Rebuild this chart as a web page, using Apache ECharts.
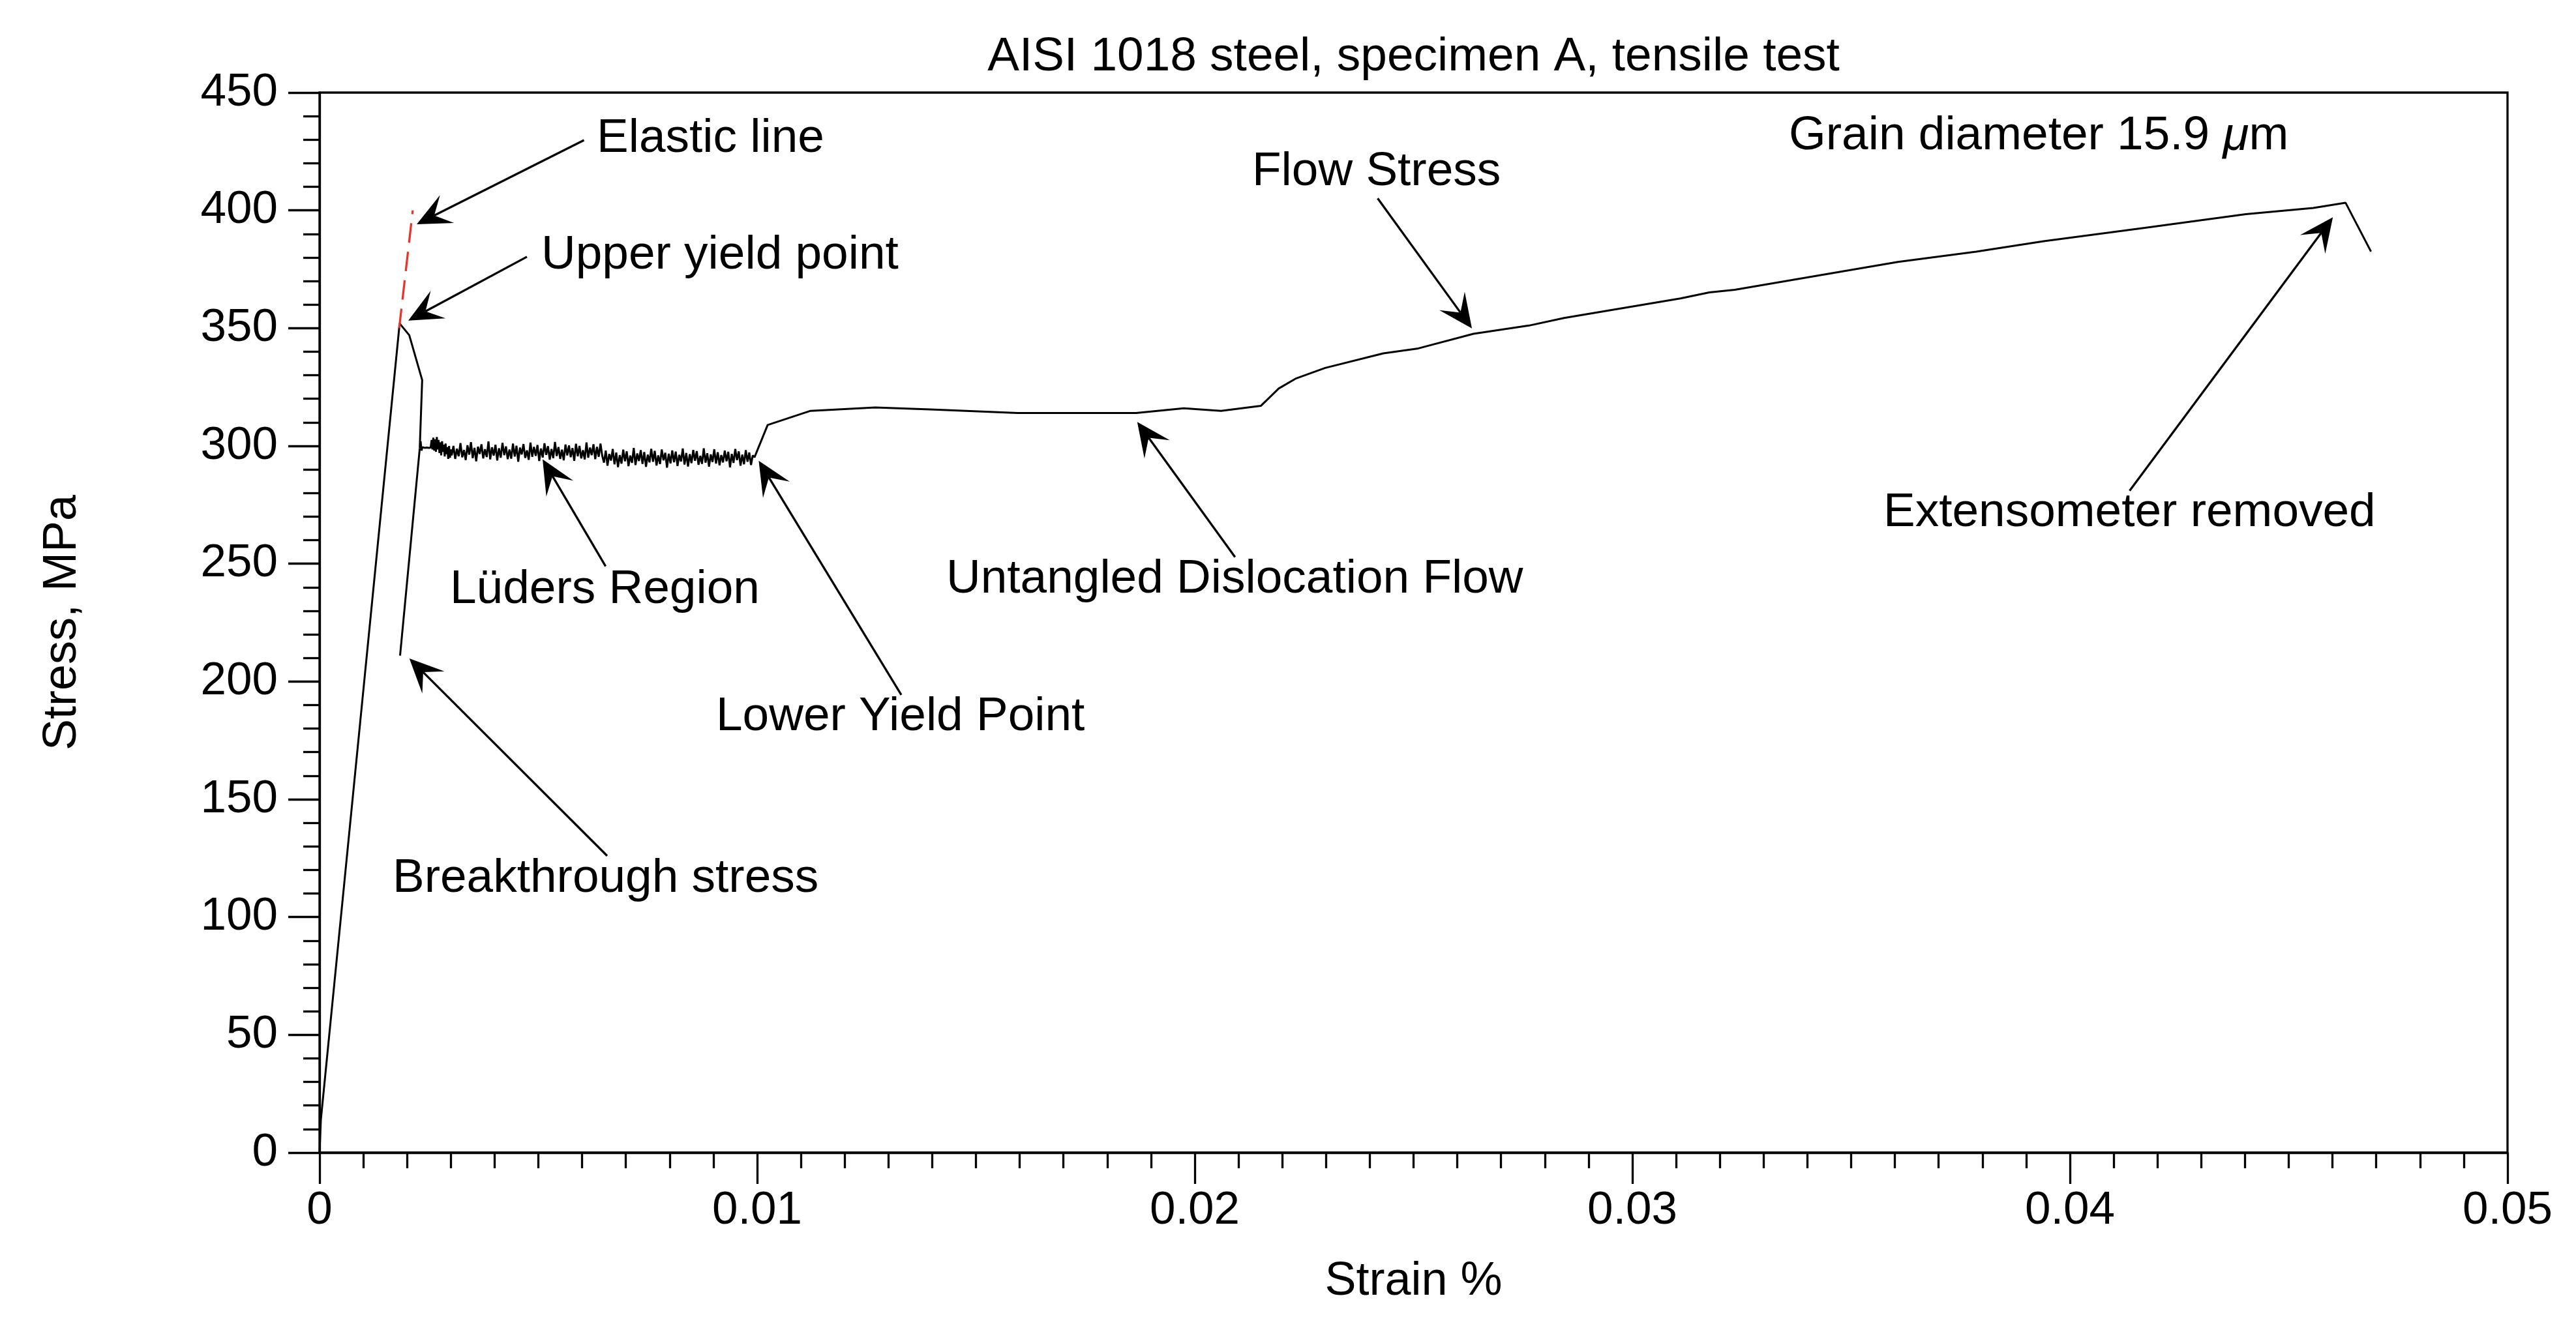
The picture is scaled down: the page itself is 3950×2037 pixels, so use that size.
<!DOCTYPE html>
<html>
<head>
<meta charset="utf-8">
<style>
html,body{margin:0;padding:0;background:#fff;}
#chart{width:3950px;height:2037px;}
</style>
<script src="https://cdn.jsdelivr.net/npm/echarts@6/dist/echarts.min.js"></script>
</head>
<body>
<div id="chart"></div>
<script>
// ---------------- data (strain, stress MPa) ----------------
const loadingCurve = [[0,0],[0.00003,14],[0.00183,352],[0.00205,347],[0.002345,328],[0.00229,299]];
const ludersStart = [
[0.00231,302],[0.00233,298],[0.00235,299.5],[0.00240,299.2],[0.00245,299.3],[0.00250,299.2],[0.00254,299.3],
[0.00256,302.5],[0.00258,298.5],[0.00260,303.5],[0.00262,298],[0.00264,302.8],[0.00266,297.5],[0.00268,303.8],
[0.00270,298.5],[0.00272,302.5],[0.00274,297],[0.00276,301.5],[0.00278,296],[0.00280,302],[0.00282,297.5],
[0.00284,300.5],[0.00286,295.5],[0.00288,301],[0.00290,296.5],[0.00292,299.5],[0.00294,294.5],[0.00296,300],
[0.00298,295],[0.00300,298.5],[0.00302,296]
];
const ludersUpper = [
[0.00306,300.0],[0.00310,294.5],[0.00314,298.8],[0.00318,295.6],[0.00322,301.2],[0.00326,295.2],[0.00330,298.3],[0.00334,294.0],[0.00338,300.3],[0.00342,296.3],
[0.00346,301.6],[0.00350,294.8],[0.00354,299.2],[0.00358,293.5],[0.00362,299.7],[0.00366,296.6],[0.00370,300.7],[0.00374,294.7],[0.00378,298.6],[0.00382,295.3],
[0.00386,301.9],[0.00390,294.3],[0.00394,299.4],[0.00398,295.9],[0.00402,300.5],[0.00406,293.8],[0.00410,299.0],[0.00414,295.0],[0.00418,301.3],[0.00422,296.1],
[0.00426,299.8],[0.00430,294.4],[0.00434,298.5],[0.00438,294.6],[0.00442,301.0],[0.00446,295.5],[0.00450,300.1],[0.00454,293.3],[0.00458,299.3],[0.00462,296.4],
[0.00466,300.8],[0.00470,294.9],[0.00474,298.1],[0.00478,294.1],[0.00482,301.4],[0.00486,295.4],[0.00490,299.6],[0.00494,295.8],[0.00498,300.4],[0.00502,293.6],
[0.00506,298.9],[0.00510,295.1],[0.00514,301.1],[0.00518,296.2],[0.00522,299.9],[0.00526,294.2],[0.00530,298.7],[0.00534,294.8],[0.00538,301.7],[0.00542,295.7],
[0.00546,299.5],[0.00550,294.5],[0.00554,298.4],[0.00558,293.9],[0.00562,300.6],[0.00566,296.0],[0.00570,300.2],[0.00574,295.2],[0.00578,299.1],[0.00582,293.7],
[0.00586,300.9],[0.00590,295.6],[0.00594,300.0],[0.00598,294.7],[0.00602,298.2],[0.00606,294.3],[0.00610,301.5],[0.00614,295.0],[0.00618,299.3],[0.00622,296.1],
[0.00626,300.7],[0.00630,294.4],[0.00634,299.6],[0.00638,295.4],[0.00642,301.0],[0.00646,295.8]
];
const ludersLower = [
[0.00650,292.9],[0.00654,298.0],[0.00658,291.6],[0.00662,296.6],[0.00666,293.8],[0.00670,298.7],[0.00674,292.2],[0.00678,297.2],[0.00682,291.0],[0.00686,296.1],
[0.00690,292.5],[0.00694,298.4],[0.00698,293.5],[0.00702,297.7],[0.00706,291.4],[0.00710,295.9],[0.00714,292.8],[0.00718,299.1],[0.00722,291.9],[0.00726,296.8],
[0.00730,293.6],[0.00734,298.2],[0.00738,292.4],[0.00742,297.4],[0.00746,291.1],[0.00750,296.3],[0.00754,293.0],[0.00758,298.8],[0.00762,293.3],[0.00766,297.9],
[0.00770,291.7],[0.00774,296.0],[0.00778,292.3],[0.00782,298.5],[0.00786,293.9],[0.00790,297.1],[0.00794,290.8],[0.00798,296.7],[0.00802,292.6],[0.00806,298.1],
[0.00810,293.1],[0.00814,297.6],[0.00818,291.5],[0.00822,296.2],[0.00826,293.4],[0.00830,298.9],[0.00834,292.1],[0.00838,297.0],[0.00842,291.3],[0.00846,296.5],
[0.00850,292.7],[0.00854,298.3],[0.00858,293.7],[0.00862,297.8],[0.00866,292.0],[0.00870,295.8],[0.00874,292.4],[0.00878,299.0],[0.00882,292.9],[0.00886,296.9],
[0.00890,291.2],[0.00894,296.4],[0.00898,293.2],[0.00902,298.6],[0.00906,292.5],[0.00910,297.3],[0.00914,291.8],[0.00918,296.1],[0.00922,293.0],[0.00926,298.0],
[0.00930,293.5],[0.00934,297.5],[0.00938,290.9],[0.00942,296.6],[0.00946,292.8],[0.00950,298.7],[0.00954,294.0],[0.00958,297.7],[0.00962,291.6],[0.00966,296.3],
[0.00970,292.2],[0.00974,298.2],[0.00978,293.3],[0.00982,297.2],[0.00986,291.9],[0.00990,296.0],[0.00994,295.2]
];
const hardeningCurve = [
[0.01024,308.9],[0.01122,314.9],[0.01270,316.3],[0.01405,315.4],[0.01595,314.0],[0.01866,314.0],[0.01975,316.0],
[0.0206,314.9],[0.02151,317.0],[0.02192,324.4],[0.02232,328.7],[0.02298,333.1],[0.02431,339.3],[0.02511,341.4],
[0.02637,347.6],[0.02764,351.1],[0.02844,354.3],[0.03110,362.6],[0.03176,365.2],[0.03234,366.3],[0.03607,378.1],
[0.03786,382.5],[0.0394,386.9],[0.04171,392.6],[0.04402,398.4],[0.04556,401.0],[0.0463,403.2],[0.04688,382.5]
];
const breakthroughLine = [[0.00184,211],[0.00229,299]];
const elasticLine = [[0.00182,350],[0.00213,400]];

// ---------------- annotations ----------------
const annoLabels = ['Elastic line','Upper yield point','Lüders Region','Lower Yield Point','Breakthrough stress',
  'Untangled Dislocation Flow','Flow Stress','Grain diameter 15.9 {i|μ}m','Extensometer removed'];
const annoAnchor = [[0.006334,430.3],[0.005067,380.8],[0.002981,238.8],[0.009061,184.9],[0.001669,116.2],
  [0.014322,243.3],[0.021311,416.2],[0.033577,431.4],[0.035738,271.5]];
const arrowTail = [[0.006043,429.8],[0.004739,380.3],[0.006537,248.9],[0.013294,194.3],[0.006572,126.0],
  [0.020921,252.8],[0.02418,405.1],[0.041364,281.0]];
const arrowTip = [[0.002221,394.1],[0.002027,353.2],[0.005097,294.3],[0.010036,293.7],[0.002052,209.8],
  [0.018686,310.2],[0.026334,349.9],[0.046009,397.1]];

const xTickMin = 0, xTickMax = 0.05, xTickStep = 0.01;
const yTickMin = 0, yTickMax = 450, yTickStep = 50;

const FONT = '"Liberation Sans", Arial, Helvetica, sans-serif';
const GRID = {left: 490, right: 105, top: 142, bottom: 269};
const W = 3950;

const chart = echarts.init(document.getElementById('chart'), null, {renderer: 'canvas', width: 3950, height: 2037});

const mainCurve = loadingCurve.concat(ludersStart, ludersUpper, ludersLower, hardeningCurve);

const axisCommon = {
  axisLine: {show: true, onZero: false, lineStyle: {color: '#000', width: 3.3}},
  axisTick: {show: true, inside: false, length: 48, lineStyle: {color: '#000', width: 3.3}},
  splitLine: {show: false},
  axisLabel: {color: '#000', fontSize: 71, fontFamily: FONT},
  nameTextStyle: {color: '#000', fontSize: 72, fontFamily: FONT}
};

chart.setOption({
  animation: false,
  backgroundColor: '#fff',
  title: {
    text: 'AISI 1018 steel, specimen A, tensile test',
    left: GRID.left + (W - GRID.left - GRID.right) / 2,
    textAlign: 'center',
    top: 51,
    padding: 0,
    textStyle: {color: '#000', fontSize: 73, fontWeight: 'normal', fontFamily: FONT}
  },
  grid: Object.assign({show: true, borderColor: '#000', borderWidth: 3.3, backgroundColor: 'transparent', containLabel: false}, GRID),
  xAxis: Object.assign({}, axisCommon, {
    type: 'value', min: xTickMin, max: xTickMax, interval: xTickStep,
    name: 'Strain %', nameLocation: 'middle', nameGap: 162,
    minorTick: {show: true, splitNumber: 10, length: 24, lineStyle: {color: '#000', width: 3.3}},
    axisLabel: Object.assign({}, axisCommon.axisLabel, {margin: 54})
  }),
  yAxis: Object.assign({}, axisCommon, {
    type: 'value', min: yTickMin, max: yTickMax, interval: yTickStep,
    name: 'Stress, MPa', nameLocation: 'middle', nameGap: 358,
    minorTick: {show: true, splitNumber: 5, length: 25, lineStyle: {color: '#000', width: 3.3}},
    axisLabel: Object.assign({}, axisCommon.axisLabel, {margin: 64})
  }),
  series: [
    {
      type: 'line', name: 'curve', data: mainCurve, showSymbol: false, symbol: 'none',
      lineStyle: {color: '#000', width: 3}, z: 3, clip: false
    },
    {
      type: 'line', name: 'breakthrough', data: breakthroughLine, showSymbol: false, symbol: 'none',
      lineStyle: {color: '#000', width: 3}, z: 3
    },
    {
      type: 'line', name: 'elastic', data: elasticLine, showSymbol: false, symbol: 'none',
      lineStyle: {color: '#e8352b', width: 3.3, type: [30, 14]}, z: 4
    },
    {
      type: 'custom', name: 'arrows', clip: false, z: 5,
      data: arrowTail.map((t, i) => [t[0], t[1], arrowTip[i][0], arrowTip[i][1]]),
      encode: {x: [0, 2], y: [1, 3]},
      renderItem: function (params, api) {
        const a = api.coord([api.value(0), api.value(1)]);
        const b = api.coord([api.value(2), api.value(3)]);
        const dx = b[0] - a[0], dy = b[1] - a[1];
        const len = Math.sqrt(dx * dx + dy * dy);
        const ux = dx / len, uy = dy / len, nx = -uy, ny = ux;
        const L = 52, HW = 24, N = 30;
        const bx = b[0] - ux * L, by = b[1] - uy * L;
        const notch = [b[0] - ux * N, b[1] - uy * N];
        return {
          type: 'group',
          children: [
            {type: 'line', shape: {x1: a[0], y1: a[1], x2: notch[0], y2: notch[1]},
             style: {stroke: '#000', lineWidth: 3.3}},
            {type: 'polygon', shape: {points: [b, [bx + nx * HW, by + ny * HW], notch, [bx - nx * HW, by - ny * HW]]},
             style: {fill: '#000'}}
          ]
        };
      }
    },
    {
      type: 'custom', name: 'labels', clip: false, z: 6,
      data: annoAnchor.map((p, i) => [p[0], p[1], i]),
      encode: {x: 0, y: 1},
      renderItem: function (params, api) {
        const p = api.coord([api.value(0), api.value(1)]);
        const idx = api.value(2);
        return {
          type: 'text', x: p[0], y: p[1],
          style: {
            text: annoLabels[idx], fill: '#000', fontSize: 73, fontFamily: FONT,
            align: 'left', verticalAlign: 'middle',
            rich: {i: {fontStyle: 'italic', fontSize: 73, fontFamily: FONT, fill: '#000'}}
          }
        };
      }
    }
  ]
});
</script>
</body>
</html>
